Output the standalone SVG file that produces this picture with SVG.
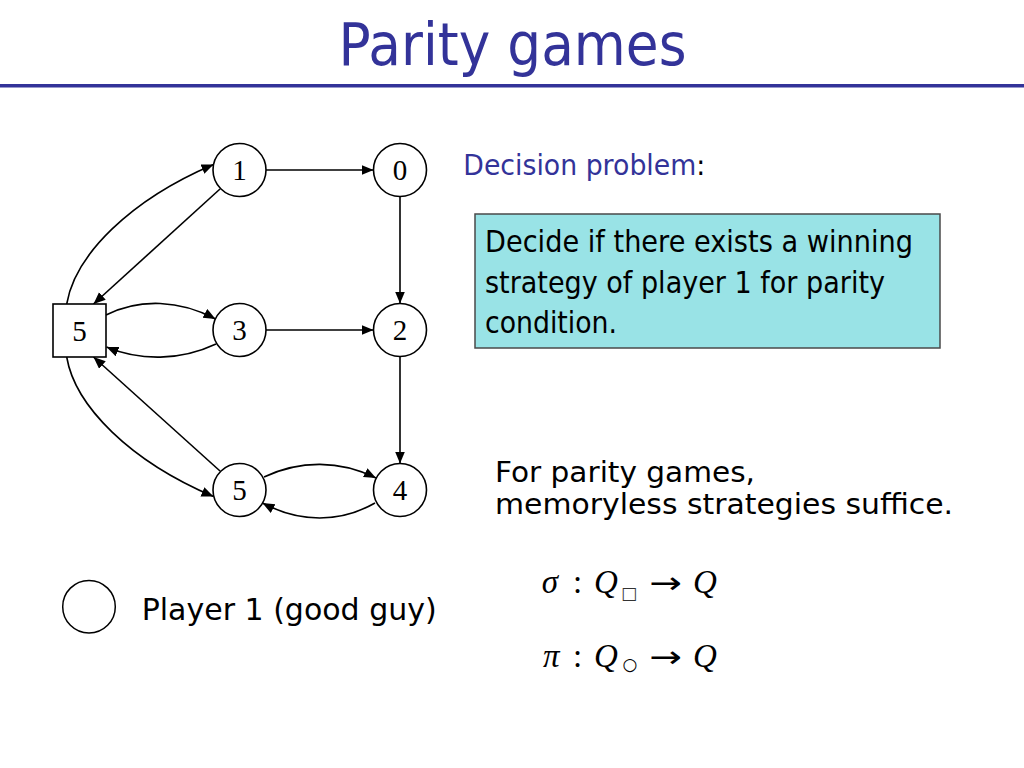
<svg xmlns="http://www.w3.org/2000/svg" width="1024" height="768" viewBox="0 0 1024 768">
<defs>
<marker id="ah" markerUnits="userSpaceOnUse" markerWidth="14" markerHeight="12" refX="12" refY="5" orient="auto">
<path d="M0,0 L12,5 L0,10 z" fill="#000"/>
</marker>
</defs>
<style>
.t{font-family:"DejaVu Sans","Liberation Sans",sans-serif}
.node{fill:#fff;stroke:#000;stroke-width:1.6}
.lbl{font-family:"Liberation Serif","DejaVu Serif",serif;font-size:29px;text-anchor:middle}
.e{fill:none;stroke:#000;stroke-width:1.6;marker-end:url(#ah)}
.m{font-family:"Liberation Serif","DejaVu Serif",serif;font-size:33px}
.mi{font-style:italic}
.arr{font-family:"DejaVu Sans",sans-serif;font-size:30px}
</style>
<rect width="1024" height="768" fill="#fff"/>
<text class="t" x="512.5" y="65" font-size="58" fill="#333399" text-anchor="middle" textLength="348" lengthAdjust="spacingAndGlyphs">Parity games</text>
<rect x="0" y="84" width="1024" height="3.5" fill="#333399"/>

<g id="connectors">
<path class="e" d="M266,170 L373.5,170"/>
<path class="e" d="M400,196.5 L400,303.5"/>
<path class="e" d="M266,330 L373.5,330"/>
<path class="e" d="M400,356.5 L400,463.5"/>
<path class="e" d="M66.7,304 C75,255 130,200 213.5,164.5"/>
<path class="e" d="M220,189 L93.5,304"/>
<path class="e" d="M106,315 C140,298 180,300 215.5,319"/>
<path class="e" d="M216,344 C180,361 140,361 106.5,347"/>
<path class="e" d="M66.7,357 C75,406 130,461 213.5,496.5"/>
<path class="e" d="M220,471 L93.5,357"/>
<path class="e" d="M264,477 C300,460 340,460 376,478"/>
<path class="e" d="M375,503 C340,523 300,523 262.5,503"/>
</g>

<g id="n1"><circle class="node" cx="239.5" cy="170" r="26.5"/><text class="lbl" x="239.5" y="180">1</text></g>
<g id="n0"><circle class="node" cx="400" cy="170" r="26.5"/><text class="lbl" x="400" y="180">0</text></g>
<g id="nsq"><rect class="node" x="53" y="304" width="53" height="53"/><text class="lbl" x="79.5" y="340.5">5</text></g>
<g id="n3"><circle class="node" cx="239.5" cy="330" r="26.5"/><text class="lbl" x="239.5" y="340">3</text></g>
<g id="n2"><circle class="node" cx="400" cy="330" r="26.5"/><text class="lbl" x="400" y="340">2</text></g>
<g id="n5"><circle class="node" cx="239.5" cy="490" r="26.5"/><text class="lbl" x="239.5" y="500">5</text></g>
<g id="n4"><circle class="node" cx="400" cy="490" r="26.5"/><text class="lbl" x="400" y="500">4</text></g>

<g id="decision">
<text class="t" x="463.3" y="175" font-size="27.5" fill="#333399" textLength="242" lengthAdjust="spacingAndGlyphs">Decision problem<tspan fill="#000">:</tspan></text>
</g>
<g id="box">
<rect x="475" y="214" width="465" height="134" fill="#99E3E6" stroke="#4a4a4a" stroke-width="1.5"/>
<text class="t" x="485" y="251.7" font-size="30" textLength="428" lengthAdjust="spacingAndGlyphs">Decide if there exists a winning</text>
<text class="t" x="485" y="293.3" font-size="30" textLength="400" lengthAdjust="spacingAndGlyphs">strategy of player 1 for parity</text>
<text class="t" x="485" y="333.3" font-size="30" textLength="132" lengthAdjust="spacingAndGlyphs">condition.</text>
</g>
<g id="memoryless">
<text class="t" x="495" y="481.7" font-size="28" textLength="260" lengthAdjust="spacingAndGlyphs">For parity games,</text>
<text class="t" x="495" y="514" font-size="28" textLength="458" lengthAdjust="spacingAndGlyphs">memoryless strategies suffice.</text>
</g>
<g id="legend">
<circle cx="89" cy="606.7" r="26.3" fill="#fff" stroke="#000" stroke-width="1.5"/>
<text class="t" x="141.7" y="620" font-size="30" textLength="295" lengthAdjust="spacingAndGlyphs">Player 1 (good guy)</text>
</g>
<g id="math">
<text class="m mi" x="541.7" y="593.3">σ</text>
<text class="m" x="573" y="593.3">:</text>
<text class="m mi" x="594" y="593.3">Q</text>
<text x="629" y="599" font-family="DejaVu Sans,sans-serif" font-size="17" text-anchor="middle" fill="#333">□</text>
<text class="arr" transform="translate(649,593.3) scale(1.3,1)" x="0" y="0">→</text>
<text class="m mi" x="693" y="593.3">Q</text>
<text class="m mi" x="543" y="666.7">π</text>
<text class="m" x="573" y="666.7">:</text>
<text class="m mi" x="594" y="666.7">Q</text>
<text x="630" y="670" font-family="DejaVu Sans,sans-serif" font-size="17" text-anchor="middle">○</text>
<text class="arr" transform="translate(649,666.7) scale(1.3,1)" x="0" y="0">→</text>
<text class="m mi" x="693" y="666.7">Q</text>
</g>
</svg>
